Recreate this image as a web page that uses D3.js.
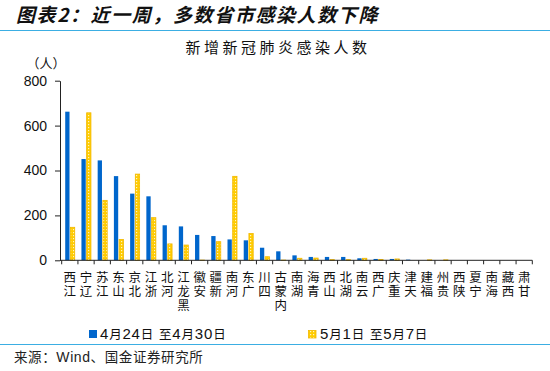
<!DOCTYPE html>
<html><head><meta charset="utf-8">
<script src="https://cdn.jsdelivr.net/npm/d3@7"></script>
<style>body{margin:0;background:#fff}svg{display:block}</style>
</head><body>
<script>
const categories = ["江西","辽宁","江苏","山东","北京","浙江","河北","黑龙江","安徽","新疆","河南","广东","四川","内蒙古","湖南","青海","山西","湖北","云南","广西","重庆","天津","福建","贵州","陕西","宁夏","海南","西藏","甘肃"];
const week1 = [662,451,445,375,297,285,156,151,113,108,93,89,56,40,22,15,15,15,9,6,6,3,0,0,0,0,0,0,0];
const week2 = [147,657,267,93,384,190,73,68,1,83,374,119,16,1,9,10,3,3,9,4,6,0,2,2,0,0,0,0,0];
const yTicks = [0,200,400,600,800];
const seriesNames = ["4月24日 至4月30日","5月1日 至5月7日"];

const W=550,H=371;
const svg=d3.select("body").append("svg").attr("width",W).attr("height",H);
const cjk='"Noto Sans CJK SC","Noto Sans",sans-serif';
const arial='"Liberation Sans",Arial,sans-serif';

const defs=svg.append("defs");
const pat=defs.append("pattern").attr("id","chk").attr("patternUnits","userSpaceOnUse").attr("width",3).attr("height",3);
pat.append("rect").attr("width",3).attr("height",3).attr("fill","#FFCC00");
pat.append("rect").attr("x",1).attr("y",1).attr("width",1.2).attr("height",1.2).attr("fill","#FFF4C2");

function mixed(sel,str,cjkSize,latSize){
  const parts=str.match(/[A-Za-z0-9 ]+|[^A-Za-z0-9 ]+/g);
  parts.forEach(p=>{
    const lat=/[A-Za-z0-9 ]/.test(p[0]);
    sel.append("tspan").attr("font-family",lat?arial:cjk).attr("font-size",lat?latSize:cjkSize).text(p);
  });
}

// title
svg.append("text").attr("x",16).attr("y",22).attr("font-family",cjk).attr("font-size",19).attr("letter-spacing",1.6).attr("font-weight","bold").attr("font-style","italic").attr("fill","#111").text("图表2：近一周，多数省市感染人数下降");
svg.append("line").attr("x1",0).attr("x2",W).attr("y1",30.5).attr("y2",30.5).attr("stroke","#3BAEE3").attr("stroke-width",1.2);
svg.append("line").attr("x1",0).attr("x2",W).attr("y1",344.5).attr("y2",344.5).attr("stroke","#3BAEE3").attr("stroke-width",1.2);
const src=svg.append("text").attr("x",14).attr("y",362).attr("fill","#222").attr("letter-spacing",0.6);
mixed(src,"来源：Wind、国金证券研究所",13.5,14);

svg.append("text").attr("x",278).attr("y",53).attr("text-anchor","middle").attr("font-family",cjk).attr("font-size",15).attr("letter-spacing",3.5).attr("fill","#111").text("新增新冠肺炎感染人数");
svg.append("text").attr("x",46).attr("y",68).attr("text-anchor","middle").attr("font-family",cjk).attr("font-size",13).attr("fill","#111").text("（人）");

const x=d3.scaleBand().domain(categories).range([61.7,532.3]).padding(0);
const y=d3.scaleLinear().domain([0,800]).range([260.3,80.7]);

const g=svg.append("g");
const bw=4.3;
g.selectAll(".b1").data(categories).enter().append("rect")
 .attr("x",d=>x(d)+x.bandwidth()/2-bw-0.3).attr("width",bw)
 .attr("y",(d,i)=>y(week1[i])).attr("height",(d,i)=>y(0)-y(week1[i])).attr("fill","#0066CC");
g.selectAll(".b2").data(categories).enter().append("rect")
 .attr("x",d=>x(d)+x.bandwidth()/2+0.6).attr("width",bw)
 .attr("y",(d,i)=>y(week2[i])).attr("height",(d,i)=>y(0)-y(week2[i])).attr("fill","url(#chk)")
 .attr("stroke",(d,i)=>week2[i]>0?"#F2B800":"none").attr("stroke-width",0.8);

// y axis
const ya=svg.append("g").attr("transform","translate(60,0)").call(d3.axisLeft(y).tickValues(yTicks).tickSize(5).tickSizeOuter(0).tickPadding(8));
ya.selectAll("text").attr("font-family",arial).attr("font-size",14).attr("fill","#111");
ya.selectAll("line,path").attr("stroke","#222");
// x axis
const xa=svg.append("g").attr("transform","translate(0,260.3)").call(d3.axisBottom(x).tickSize(0).tickFormat(""));
xa.select("path").attr("stroke","#222").attr("d","M60,0H532.3");
const tickPos=categories.map(c=>x(c)).concat([x.range()[1]]);
xa.selectAll(".tk").data(tickPos).enter().append("line").attr("x1",d=>d).attr("x2",d=>d).attr("y1",0).attr("y2",4).attr("stroke","#222");

// vertical stacked labels (upright characters, last char on top)
svg.append("g").selectAll("text").data(categories).enter().append("text")
  .attr("x",d=>x(d)+x.bandwidth()/2).attr("y",270.5)
  .attr("font-family",cjk).attr("font-size",12.5).attr("fill","#111")
  .attr("letter-spacing",1.5)
  .style("writing-mode","vertical-rl").style("text-orientation","upright")
  .text(d=>d.split("").reverse().join(""));

// legend
const lg=svg.append("g");
lg.append("rect").attr("x",89).attr("y",330).attr("width",8).attr("height",8).attr("fill","#0066CC");
const l1=lg.append("text").attr("x",100).attr("y",338.5).attr("fill","#111").attr("letter-spacing",0.8);
mixed(l1,seriesNames[0],12.5,15);
lg.append("rect").attr("x",308.5).attr("y",330.5).attr("width",7.5).attr("height",7.5).attr("fill","url(#chk)").attr("stroke","#F2B800").attr("stroke-width",0.8);
const l2=lg.append("text").attr("x",320).attr("y",338.5).attr("fill","#111").attr("letter-spacing",0.8);
mixed(l2,seriesNames[1],12.5,15);
</script>
</body></html>
